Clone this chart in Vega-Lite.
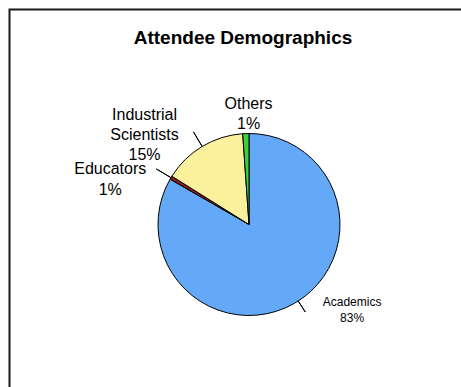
{
  "$schema": "https://vega.github.io/schema/vega-lite/v6.json",
  "width": 479,
  "height": 430,
  "autosize": {"type": "none"},
  "padding": {"left": 9.5, "top": 9.5, "right": 0, "bottom": 0},
  "background": "white",
  "config": {
    "view": {"stroke": null},
    "font": "Liberation Sans"
  },
  "title": {
    "text": "Attendee Demographics",
    "anchor": "middle",
    "frame": "group",
    "orient": "top",
    "offset": -39,
    "dx": -6,
    "dy": 15,
    "baseline": "alphabetic",
    "font": "Liberation Sans",
    "fontSize": 19,
    "fontWeight": "bold",
    "color": "#000000"
  },
  "data": {
    "values": [
      {"group": "Academics", "share": 83.3, "label": "Academics\n83%"},
      {"group": "Educators", "share": 0.6, "label": "Educators\n1%"},
      {"group": "Industrial Scientists", "share": 15.0, "label": "Industrial\nScientists\n15%"},
      {"group": "Others", "share": 1.1, "label": "Others\n1%"}
    ]
  },
  "encoding": {
    "theta": {"field": "share", "type": "quantitative", "stack": true}
  },
  "layer": [
    {
      "data": {"values": [{"frame": "border"}]},
      "mark": {"type": "rect", "fill": null, "filled": false, "stroke": "#1a1a1a", "strokeWidth": 2},
      "encoding": {"theta": null}
    },
    {
      "mark": {"type": "arc", "outerRadius": 91, "stroke": "#000000", "strokeWidth": 1},
      "encoding": {
        "color": {
          "field": "group",
          "type": "nominal",
          "scale": {
            "domain": ["Academics", "Educators", "Industrial Scientists", "Others"],
            "range": ["#64a9f7", "#8b1c1c", "#fbf09c", "#3ecf3e"]
          },
          "legend": null
        }
      }
    },
    {
      "mark": {"type": "arc", "radius": 108, "radius2": 91, "padAngle": 3, "filled": false, "stroke": "#000000", "strokeWidth": 1},
      "encoding": {
        "detail": {"field": "group", "type": "nominal"},
        "color": {"value": "#000000"},
        "strokeOpacity": {"condition": {"test": "datum.group === 'Others' || datum.group === 'Academics'", "value": 0}, "value": 1}
      }
    },
    {
      "transform": [{"filter": "datum.group === 'Academics'"}],
      "mark": {"type": "arc", "radius": 104, "radius2": 91, "filled": false, "stroke": "#000000", "strokeWidth": 1},
      "encoding": {
        "theta": {"value": 2.57},
        "theta2": {"value": 2.57},
        "color": {"value": "#000000"}
      }
    },
    {
      "mark": {
        "type": "text",
        "radius": 100,
        "lineBreak": "\n",
        "align": "center",
        "baseline": "middle",
        "font": "Liberation Sans",
        "lineHeight": {"expr": "datum.group === 'Academics' ? 16.5 : datum.group === 'Educators' ? 21 : 20"},
        "dx": {"expr": "datum.group === 'Academics' ? 53 : datum.group === 'Educators' ? -53 : datum.group === 'Industrial Scientists' ? -53 : 3"},
        "dy": {"expr": "datum.group === 'Academics' ? -9.5 : datum.group === 'Educators' ? -4 : datum.group === 'Industrial Scientists' ? -24 : -21"}
      },
      "encoding": {
        "detail": {"field": "group", "type": "nominal"},
        "text": {"field": "label", "type": "nominal"},
        "color": {"value": "#000000"},
        "size": {"condition": {"test": "datum.group === 'Academics'", "value": 12}, "value": 16}
      }
    }
  ]
}
